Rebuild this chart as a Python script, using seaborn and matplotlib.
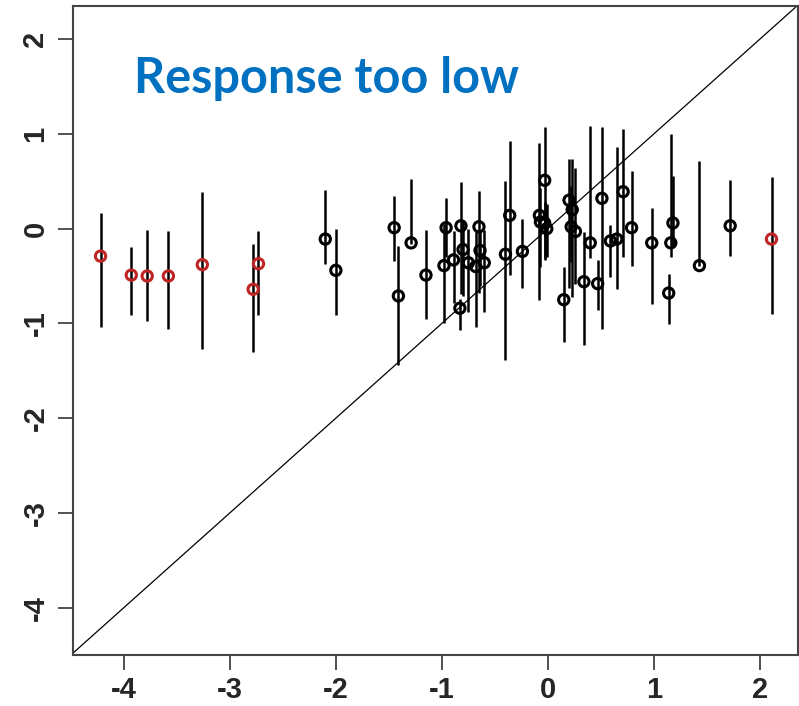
import pandas as pd
import seaborn as sns
import matplotlib.pyplot as plt

# observed vs predicted, with vertical intervals
x_vals = [-4.22, -3.93, -3.78, -3.58, -3.26, -2.78, -2.73, 2.11,
          -2.10, -2.00, -1.45, -1.41, -1.29, -1.15, -0.96, -0.98, -0.89, -0.83,
          -0.82, -0.80, -0.75, -0.68, -0.65, -0.64, -0.60, -0.40, -0.36, -0.24,
          -0.08, -0.07, -0.03, -0.03, -0.01, 0.20, 0.23, 0.22, 0.26, 0.15,
          0.34, 0.40, 0.47, 0.51, 0.59, 0.65, 0.71, 0.79, 0.98, 1.16,
          1.18, 1.14, 1.43, 1.72]
y_vals = [-0.29, -0.49, -0.50, -0.50, -0.38, -0.64, -0.37, -0.11,
          -0.11, -0.44, 0.01, -0.71, -0.15, -0.49, 0.01, -0.39, -0.33, -0.84,
          0.03, -0.22, -0.36, -0.40, 0.02, -0.23, -0.36, -0.27, 0.14, -0.24,
          0.14, 0.07, 0.51, 0.06, 0.00, 0.30, 0.20, 0.02, -0.03, -0.75,
          -0.56, -0.15, -0.58, 0.32, -0.13, -0.11, 0.39, 0.01, -0.15, -0.15,
          0.06, -0.68, -0.39, 0.03]
y_hi = [0.17, -0.19, -0.01, -0.02, 0.39, -0.16, -0.02, 0.54,
        0.41, 0.00, 0.34, -0.18, 0.52, -0.01, 0.32, 0.05, -0.02, -0.74,
        0.49, 0.09, 0.00, -0.01, 0.40, -0.01, -0.01, 0.50, 0.93, 0.10,
        0.90, 0.43, 1.07, 0.28, 0.26, 0.73, 0.74, 0.45, 0.64, -0.40,
        -0.04, 1.08, -0.33, 1.07, 0.04, 0.86, 1.05, 0.61, 0.22, 1.00,
        0.56, -0.48, 0.71, 0.51]
y_lo = [-1.04, -0.91, -0.97, -1.06, -1.27, -1.30, -0.91, -0.90,
        -0.37, -0.91, -0.34, -1.44, -0.16, -0.95, -0.30, -1.00, -0.79, -1.07,
        -0.69, -0.71, -0.88, -1.04, -0.68, -0.61, -0.88, -1.39, -0.49, -0.63,
        -0.75, -0.40, -0.33, -0.31, -0.30, -0.63, -0.72, -0.35, -0.58, -1.20,
        -1.23, -0.31, -0.86, -1.06, -0.51, -0.64, -0.30, -0.39, -0.80, -0.30,
        -0.19, -1.01, -0.39, -0.29]
groups = ["outlier"] * 8 + ["normal"] * 44

df = pd.DataFrame({"x": x_vals, "y": y_vals, "lo": y_lo, "hi": y_hi, "group": groups})

sns.set_style("white")
plt.rcParams["font.family"] = ["Liberation Sans Narrow", "Liberation Sans", "DejaVu Sans"]
plt.rcParams["axes.unicode_minus"] = False

fig = plt.figure(figsize=(7.99, 7.06), dpi=100)
ax = fig.add_axes([73 / 799, 51 / 706, 725 / 799, 649 / 706])

ax.vlines(df["x"], df["lo"], df["hi"], color="black", lw=1.8, zorder=2)
ax.axline((0, 0), slope=1, color="black", lw=0.9, zorder=1)
sns.scatterplot(data=df, x="x", y="y", hue="group",
                palette={"normal": "black", "outlier": "#C02424"},
                marker="o", s=55, linewidth=2.2,
                legend=False, ax=ax, zorder=3)
# open markers: seaborn fills with the hue colour, so move it to the edge
for coll in ax.collections[1:]:
    coll.set_edgecolors(coll.get_facecolors())
    coll.set_facecolors("none")

ax.set_xlim(-4.48, 2.36)
ax.set_ylim(-4.5, 2.35)
ax.set_xticks([-4, -3, -2, -1, 0, 1, 2])
ax.set_yticks([-4, -3, -2, -1, 0, 1, 2])
ax.set_xlabel("")
ax.set_ylabel("")
ax.tick_params(axis="both", direction="out", length=11, width=1.2, color="#333333",
               labelsize=21, left=True, bottom=True, pad=6)
ax.tick_params(axis="x", pad=4)
for lab in ax.get_xticklabels() + ax.get_yticklabels():
    lab.set_fontweight("bold")
for lab in ax.get_yticklabels():
    lab.set_rotation(90)
    lab.set_va("center")
for side in ax.spines.values():
    side.set_color("#444444")
    side.set_linewidth(1.5)

ax.text(-3.9, 1.58, "Response too low", color="#0070C0", fontsize=35,
        fontweight="bold", family=["Lato", "DejaVu Sans"], va="center", ha="left")

fig.savefig("out.png", dpi=100)
